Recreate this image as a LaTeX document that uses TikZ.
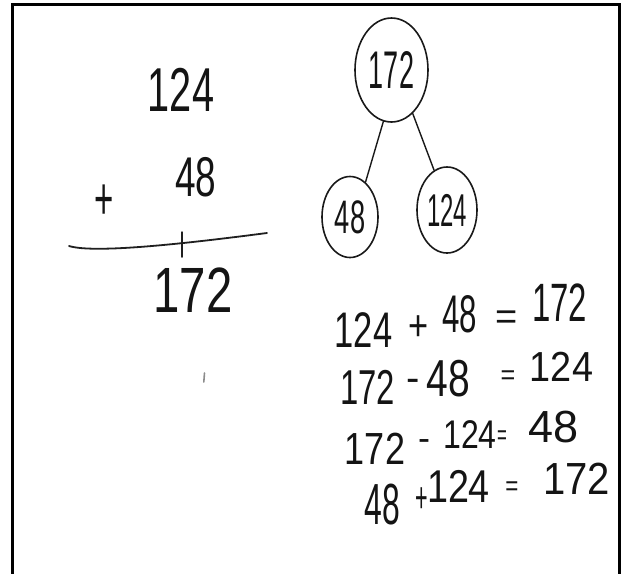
\documentclass[tikz,border=0pt]{standalone}
\usepackage{fontspec}
\usepackage{graphicx}
\setmainfont{Liberation Sans}
\usetikzlibrary{shapes.geometric}
\newcommand{\hw}[3]{\scalebox{#2}[1]{\fontsize{#1}{#1}\selectfont #3}}
\tikzset{
  tok/.style={inner sep=0pt, outer sep=0pt, anchor=center, text=black!92},
  bubble/.style={ellipse, draw=black!90, line width=1.6pt, inner sep=0pt, text=black!92},
  link/.style={draw=black!90, line width=1.4pt, line cap=round},
  frame/.style={draw=black, line width=3pt},
  pen/.style={draw=black!88, line width=1.8pt, line cap=round}
}
\begin{document}
\begin{tikzpicture}[x=1pt,y=-1pt]
\useasboundingbox (0,0) rectangle (626,573);
% frame
\draw[frame] (12.2,580) -- (12.2,4.5) -- (619,4.5) -- (619,580);

% column addition
\node[tok] (a1) at (181,90) {\hw{62}{0.64}{124}};
\node[tok] (a2) at (196,177) {\hw{56}{0.66}{48}};
\node[tok] (aplus) at (104,202) {\hw{60}{0.55}{+}};
\coordinate (rl) at (69,246);
\coordinate (rr) at (267,233);
\draw[pen] (rl) .. controls (95,254) and (190,243) .. (rr);
\coordinate (tk1) at (182,232);
\coordinate (tk2) at (182,257);
\draw[pen, line width=1.5pt] (tk1) -- (tk2);
\node[tok] (a3) at (193,290) {\hw{64}{0.74}{172}};
\coordinate (sm1) at (204.5,373);
\coordinate (sm2) at (203.8,382);
\draw[draw=black!45, line width=1.6pt, line cap=round] (sm1) -- (sm2);

% number bond
\node[bubble, minimum width=73pt, minimum height=104pt] (top) at (391.5,70) {\raisebox{-6pt}{\hw{53}{0.51}{172}}};
\node[bubble, minimum width=56pt, minimum height=81pt] (left) at (350,217) {\hw{47}{0.58}{48}};
\node[bubble, minimum width=60pt, minimum height=86pt] (right) at (447,210) {\raisebox{-3pt}{\hw{46}{0.52}{124}}};
\draw[link] (top.261) -- (left.66);
\draw[link] (top.296) -- (right.108);

% fact family
\node[tok] (e1a) at (363.5,330) {\hw{50}{0.69}{124}};
\node[tok] (e1b) at (418.5,328) {\hw{43}{0.8}{+}};
\node[tok] (e1c) at (459.5,314) {\hw{53}{0.59}{48}};
\node[tok] (e1d) at (507,320) {\hw{38}{1.0}{=}};
\node[tok] (e1e) at (559.5,302.5) {\hw{54}{0.61}{172}};

\node[tok] (e2a) at (367.5,387.5) {\hw{49}{0.67}{172}};
\node[tok] (e2b) at (413.5,385) {\hw{40}{1.0}{-}};
\node[tok] (e2c) at (448,378.5) {\hw{52}{0.75}{48}};
\node[tok] (e2d) at (508,377.5) {\hw{28}{0.9}{=}};
\node[tok] (e2e) at (561.5,367) {\hw{42}{0.9}{124}};

\node[tok] (e3a) at (375,449) {\hw{45}{0.8}{172}};
\node[tok] (e3b) at (424,445) {\hw{36}{1.0}{-}};
\node[tok] (e3c) at (470,435) {\hw{40}{0.8}{124}};
\node[tok] (e3d) at (502,437.5) {\hw{28}{0.6}{=}};
\node[tok] (e3e) at (553.5,427.5) {\hw{45}{1.0}{48}};

\node[tok] (e4a) at (382.5,505) {\hw{58}{0.55}{48}};
\node[tok] (e4b) at (422,500) {\hw{43}{0.5}{+}};
\node[tok] (e4c) at (458.5,486.5) {\hw{46}{0.82}{124}};
\node[tok] (e4d) at (512,488.5) {\hw{28}{0.8}{=}};
\node[tok] (e4e) at (576.5,479) {\hw{45}{0.89}{172}};
\end{tikzpicture}
\end{document}
